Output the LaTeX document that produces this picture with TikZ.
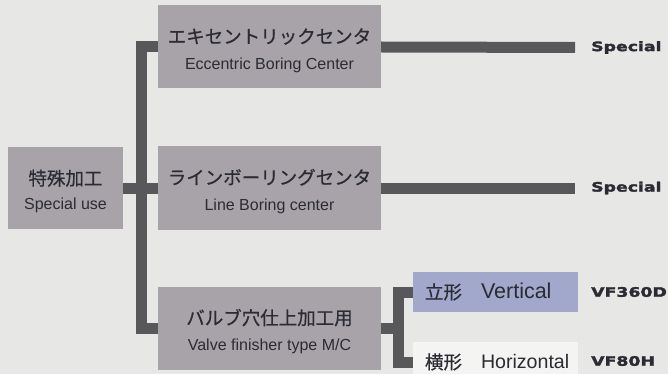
\documentclass[tikz,border=0pt]{standalone}
\usepackage{fontspec}
\usepackage{tikz}
\usetikzlibrary{calc}
\setmainfont{Liberation Sans}
\newfontfamily\jpfont[FakeBold=0.6]{Noto Sans CJK JP}
\newfontfamily\modelfont[FakeStretch=1.33, FakeBold=2.2]{DejaVu Sans}
\definecolor{paper}{HTML}{E7E8E6}
\definecolor{boxgray}{HTML}{A8A3A9}
\definecolor{barcol}{HTML}{58585A}
\definecolor{ink}{HTML}{2B2B33}
\definecolor{vblue}{HTML}{A1A8CB}
\definecolor{hwhite}{HTML}{F4F4F2}
\newcommand{\jpt}[1]{{\jpfont\fontsize{18.5}{22}\selectfont\rule{0pt}{22pt}#1}}
\newcommand{\ent}[1]{{\fontsize{16}{19}\selectfont #1}}
\newcommand{\subt}[3]{\makebox[141pt][l]{{\jpfont\fontsize{18.5}{22}\selectfont #1}\hspace{19pt}{\fontsize{#3}{22}\selectfont #2}}}
\tikzset{
  box/.style={fill=boxgray, text=ink, align=center, inner sep=0pt, minimum width=223pt, minimum height=83pt},
  rootbox/.style={box, minimum width=115pt, minimum height=82pt},
  subbox/.style={text=ink, inner ysep=0pt, inner xsep=12pt, minimum width=165pt, minimum height=40pt},
  conn/.style={draw=barcol, line width=11pt, line join=miter, line cap=butt},
  model/.style={text=ink, font=\modelfont\bfseries\fontsize{13}{14}\selectfont, anchor=west, inner sep=0pt},
}

\begin{document}
\begin{tikzpicture}[x=1pt, y=-1pt]
  \fill[paper] (0,0) rectangle (668,374);
  \clip (0,0) rectangle (668,374);
  % boxes
  \node[rootbox] (spec) at (65.5,188) {\jpt{特殊加工}\\[10pt]\ent{Special use}};
  \node[box] (ecc) at (269.5,47) {\jpt{エキセントリックセンタ}\\[12pt]\ent{Eccentric Boring Center}};
  \node[box] (line) at (269.5,188) {\jpt{ラインボーリングセンタ}\\[12pt]\ent{Line Boring center}};
  \node[box] (valve) at (269.5,328.5) {\jpt{バルブ穴仕上加工用}\\[12pt]\ent{Valve finisher type M/C}};
  \node[subbox, fill=vblue] (vert) at (495.5,292) {\subt{立形}{Vertical}{21.5}};
  \node[subbox, fill=hwhite] (hori) at (495.5,362) {\subt{横形}{Horizontal}{19.6}};
  % model names
  \node[model] (mecc) at (591,47.5) {Special};
  \node[model] (mline) at (591,188) {Special};
  \node[model] (mvert) at (591,292) {VF360D};
  \node[model] (mhori) at (591,361) {VF80H};
  % connectors
  \draw[conn] (spec.east) -- (line.west);
  \draw[conn] (ecc.west) -- ++(-16,0) |- (valve.west);
  \draw[conn, shorten >=16pt] (ecc.east) -- (mecc.west);
  \draw[conn, shorten >=16pt] (line.east) -- (mline.west);
  \coordinate (vjoin) at ($(vert.west)!0.5!(hori.west)+(-14,0)$);
  \draw[conn] (vert.west) -- ++(-14,0) |- (hori.west);
  \draw[conn] (valve.east) -- (valve.east -| vjoin);
\end{tikzpicture}
\end{document}
